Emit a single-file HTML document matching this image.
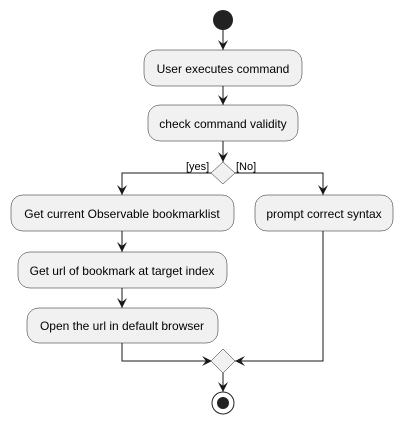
<!DOCTYPE html>
<html><head><style>html,body{margin:0;padding:0;background:#fff}svg{display:block}</style></head><body>
<svg width="403" height="425" viewBox="0 0 403 425" xmlns="http://www.w3.org/2000/svg" font-family="Liberation Sans, sans-serif" font-size="12" fill="#000">
<defs><marker id="a" viewBox="0 0 10 10" refX="10" refY="5" markerWidth="10" markerHeight="10" markerUnits="userSpaceOnUse" orient="auto"><path d="M0,0 L10,5 L0,10 L4,5 Z" fill="#181818"/></marker></defs>
<g stroke="#181818" stroke-width="1" fill="none">
<line x1="223" y1="30" x2="223" y2="50" marker-end="url(#a)"/>
<line x1="223" y1="86" x2="223" y2="105" marker-end="url(#a)"/>
<line x1="223" y1="141" x2="223" y2="162" marker-end="url(#a)"/>
<polyline points="211,173 122,173 122,195" marker-end="url(#a)"/>
<polyline points="235,173 323,173 323,195" marker-end="url(#a)"/>
<line x1="122" y1="231" x2="122" y2="252" marker-end="url(#a)"/>
<line x1="122" y1="288" x2="122" y2="308" marker-end="url(#a)"/>
<polyline points="122,343 122,361 212,361" marker-end="url(#a)"/>
<polyline points="323,231 323,361 235,361" marker-end="url(#a)"/>
<line x1="223" y1="373" x2="223" y2="392" marker-end="url(#a)"/>
</g>
<circle cx="223" cy="20" r="10" fill="#222"/>
<g fill="#f1f1f1" stroke="#181818" stroke-width="0.5">
<rect x="144" y="50" width="158" height="36" rx="12"/>
<rect x="148" y="105" width="150" height="36" rx="12"/>
<rect x="11" y="195" width="223" height="36" rx="12"/>
<rect x="255" y="195" width="138" height="36" rx="12"/>
<rect x="18" y="252" width="209" height="36" rx="12"/>
<rect x="27" y="308" width="191" height="35" rx="12"/>
<polygon points="223,162 235,173 223,184 211,173"/>
<polygon points="223,349 235,361 223,373 211,361"/>
</g>
<circle cx="223" cy="403" r="11" fill="none" stroke="#222" stroke-width="1"/>
<circle cx="223" cy="403" r="6" fill="#222"/>
<g text-anchor="middle" font-size="12">
<text x="223" y="73">User executes command</text>
<text x="223" y="128">check command validity</text>
<text x="122" y="218">Get current Observable bookmarklist</text>
<text x="324" y="218">prompt correct syntax</text>
<text x="122" y="275">Get url of bookmark at target index</text>
<text x="122" y="330">Open the url in default browser</text>
</g>
<text x="186" y="170" font-size="11">[yes]</text>
<text x="236" y="170" font-size="11">[No]</text>
</svg>
</body></html>
